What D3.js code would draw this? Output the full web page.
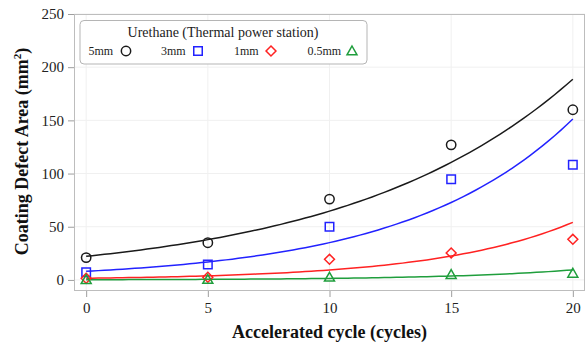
<!DOCTYPE html>
<html>
<head>
<meta charset="utf-8">
<script src="https://cdn.jsdelivr.net/npm/d3@7"></script>
<style>
  html, body { margin: 0; padding: 0; background: #fff; }
  svg { display: block; }
  text { font-family: "Liberation Serif", "Times New Roman", serif; }
</style>
</head>
<body>
<svg id="chart" width="588" height="344"></svg>
<script>
// Accelerated cycles at which defect area was measured
const cycles = [0, 5, 10, 15, 20];

// Measured coating defect area (mm²) per initial defect size
const area5mm  = [21, 35, 76, 127, 160];
const area3mm  = [7.2, 14.4, 50, 94.6, 108.4];
const area1mm  = [1.5, 2.5, 19.4, 25.4, 38.2];
const area05mm = [0.2, 0.4, 2.5, 5, 6.2];

const seriesNames = ["5mm", "3mm", "1mm", "0.5mm"];
const seriesValues = [area5mm, area3mm, area1mm, area05mm];
const seriesColors = ["#1a1a1a", "#2222ff", "#ff2222", "#1f9e3c"];
const seriesShapes = ["circle", "square", "diamond", "triangle"];

const xTicks = [0, 5, 10, 15, 20];
const yTicks = [0, 50, 100, 150, 200, 250];

const legendTitle = "Urethane (Thermal power station)";
const xTitle = "Accelerated cycle (cycles)";

const svg = d3.select("#chart");
const panel = { left: 74, right: 585, top: 14, bottom: 291 };

const x = d3.scaleLinear().domain([-0.5, 20.5]).range([panel.left, panel.right]);
const y = d3.scaleLinear().domain([-10.4, 250]).range([panel.bottom, panel.top]);

// Exponential trend y = a·e^(b·x), fitted by least squares on ln(y)
function expFit(xs, ys) {
  const ly = ys.map(Math.log);
  const mx = d3.mean(xs), my = d3.mean(ly);
  let sxy = 0, sxx = 0;
  xs.forEach((xi, i) => { sxy += (xi - mx) * (ly[i] - my); sxx += (xi - mx) ** 2; });
  const b = sxy / sxx;
  const a = Math.exp(my - b * mx);
  return t => a * Math.exp(b * t);
}

// Gridlines
const grid = svg.append("g");
grid.selectAll(".gx").data(xTicks).join("line")
  .attr("x1", d => x(d)).attr("x2", d => x(d))
  .attr("y1", panel.top).attr("y2", panel.bottom)
  .attr("stroke", "#f0f0f0").attr("stroke-width", 1);
grid.selectAll(".gy").data(yTicks).join("line")
  .attr("x1", panel.left).attr("x2", panel.right)
  .attr("y1", d => y(d)).attr("y2", d => y(d))
  .attr("stroke", "#f0f0f0").attr("stroke-width", 1);

// Panel frame
svg.append("rect")
  .attr("x", panel.left + 0.5).attr("y", panel.top + 0.5)
  .attr("width", panel.right - panel.left - 1).attr("height", panel.bottom - panel.top - 1)
  .attr("fill", "none").attr("stroke", "#bdbdbd").attr("stroke-width", 1);

// Axes
const xAxis = svg.append("g")
  .attr("transform", `translate(0,${panel.bottom})`)
  .call(d3.axisBottom(x).tickValues(xTicks).tickSize(6).tickPadding(5));
const yAxis = svg.append("g")
  .attr("transform", `translate(${panel.left},0)`)
  .call(d3.axisLeft(y).tickValues(yTicks).tickSize(6).tickPadding(4));
[xAxis, yAxis].forEach(g => {
  g.select(".domain").remove();
  g.selectAll(".tick line").attr("stroke", "#9e9e9e");
  g.selectAll(".tick text")
    .attr("fill", "#222")
    .style("font-family", "'Liberation Serif', serif")
    .style("font-size", "15px");
});

// Trend curves
const tSamples = d3.range(0, 20.001, 0.25);
const line = d3.line().x(d => x(d[0])).y(d => y(d[1])).curve(d3.curveLinear);
seriesValues.forEach((vals, i) => {
  const f = expFit(cycles, vals);
  svg.append("path")
    .attr("d", line(tSamples.map(t => [t, f(t)])))
    .attr("fill", "none")
    .attr("stroke", seriesColors[i])
    .attr("stroke-width", 1.5);
});

// Marker shapes
function shapePath(shape, s) {
  switch (shape) {
    case "circle": return d3.symbol(d3.symbolCircle, s * s * 0.95)();
    case "square": return `M${-s/2},${-s/2}H${s/2}V${s/2}H${-s/2}Z`;
    case "diamond": { const r = s * 0.55; return `M0,${-r}L${r},0L0,${r}L${-r},0Z`; }
    case "triangle": { const w = s * 0.5; return `M0,${-s*0.5}L${w},${s*0.38}L${-w},${s*0.38}Z`; }
  }
}
const markerSize = { circle: 8.5, square: 8.5, diamond: 9, triangle: 10 };

seriesValues.forEach((vals, i) => {
  const shape = seriesShapes[i];
  svg.append("g").selectAll("path")
    .data(cycles.map((c, j) => [c, vals[j]]))
    .join("path")
    .attr("transform", d => `translate(${x(d[0])},${y(d[1])})`)
    .attr("d", shapePath(shape, markerSize[shape]))
    .attr("fill", "none")
    .attr("stroke", seriesColors[i])
    .attr("stroke-width", 1.5);
});

// Legend
const legend = svg.append("g");
legend.append("rect")
  .attr("x", 80).attr("y", 20.5).attr("width", 287).attr("height", 43.5)
  .attr("rx", 4).attr("fill", "#fff").attr("stroke", "#b5b5b5").attr("stroke-width", 1);
legend.append("text")
  .attr("x", 223).attr("y", 37).attr("text-anchor", "middle")
  .style("font-size", "14px").attr("fill", "#222").text(legendTitle);
const entryText = [88.5, 161, 234, 307.5];
const entryMark = [126, 198, 271, 352];
seriesNames.forEach((name, i) => {
  legend.append("text")
    .attr("x", entryText[i]).attr("y", 55)
    .style("font-size", "12px").attr("fill", "#222").text(name);
  legend.append("path")
    .attr("transform", `translate(${entryMark[i]},51)`)
    .attr("d", shapePath(seriesShapes[i], markerSize[seriesShapes[i]]))
    .attr("fill", "none").attr("stroke", seriesColors[i]).attr("stroke-width", 1.5);
});

// Axis titles
svg.append("text")
  .attr("x", (panel.left + panel.right) / 2).attr("y", 338)
  .attr("text-anchor", "middle")
  .style("font-size", "18px").style("font-weight", "bold").attr("fill", "#111")
  .text(xTitle);

const yt = svg.append("text")
  .attr("transform", `translate(28,${(panel.top + panel.bottom) / 2 - 1}) rotate(-90)`)
  .attr("text-anchor", "middle")
  .style("font-size", "18px").style("font-weight", "bold").attr("fill", "#111");
yt.append("tspan").text("Coating Defect Area (mm");
yt.append("tspan").attr("dy", -7).style("font-size", "11px").text("2");
yt.append("tspan").attr("dy", 7).text(")");
</script>
</body>
</html>
